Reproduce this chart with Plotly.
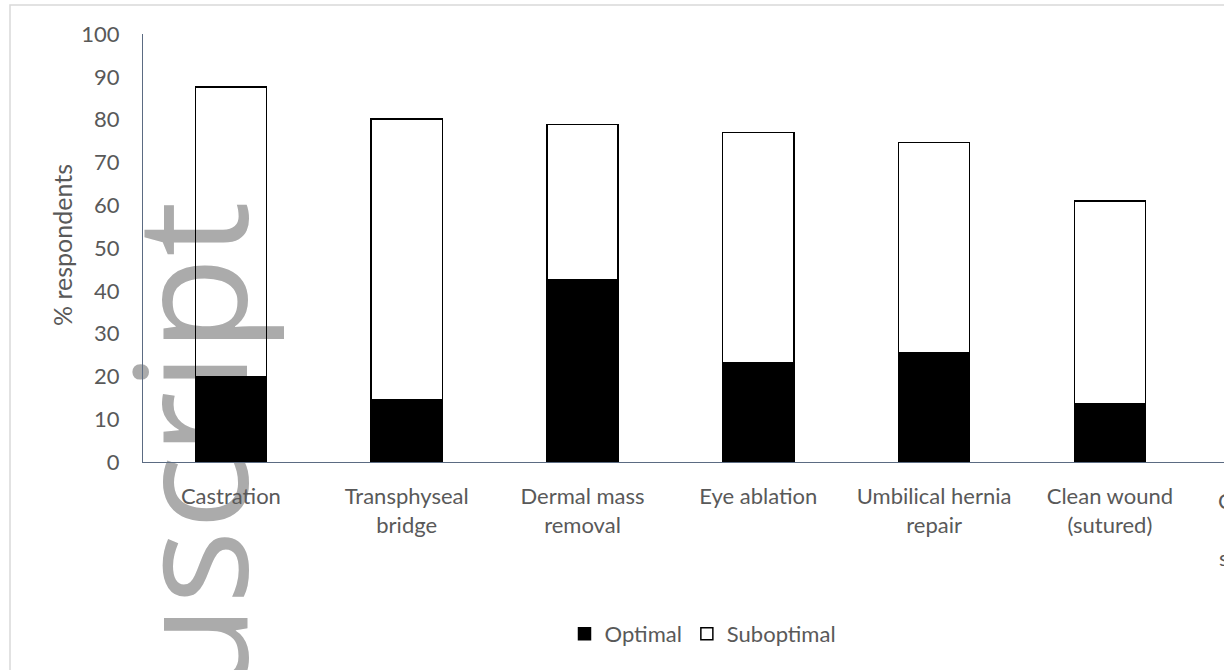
import plotly.graph_objects as go

# Surgical procedures and the share of respondents giving each answer
categories = [
    "Castration",
    "Transphyseal<br>bridge",
    "Dermal mass<br>removal",
    "Eye ablation",
    "Umbilical hernia<br>repair",
    "Clean wound<br>(sutured)",
]
optimal = [20.0, 14.5, 42.5, 23.3, 25.5, 13.6]
suboptimal = [67.6, 65.6, 36.3, 53.7, 49.2, 47.4]
y_ticks = list(range(0, 101, 10))
y_title = "% respondents"
next_category = "Contaminated<br>wound<br>surgical repair"

# pixel layout helpers
W, H = 1224, 670
L, R, T, B = 143, 0, 34, 208
PW, PH = W - L - R, H - T - B
CAT_PX = 175.8  # width of one category slot


def px(xp):
    return (xp - L) / PW


def py(yp):
    return (H - B - yp) / PH


AXIS = "#5b6b82"
TEXT = "#595959"
FONT = "Lato"

fig = go.Figure()
fig.add_trace(go.Bar(
    name="Optimal", x=categories, y=optimal,
    marker=dict(color="black", line=dict(color="black", width=1.5)),
))
fig.add_trace(go.Bar(
    name="Suboptimal", x=categories, y=suboptimal,
    marker=dict(color="rgba(255,255,255,0)", line=dict(color="black", width=1.5)),
))

fig.update_layout(
    width=W, height=H,
    margin=dict(l=L, r=R, t=T, b=B, autoexpand=False),
    barmode="stack", bargap=0.595,
    plot_bgcolor="rgba(0,0,0,0)", paper_bgcolor="white",
    font=dict(family=FONT, size=22, color=TEXT),
    showlegend=True,
    legend=dict(
        orientation="h", traceorder="normal",
        x=px(703), xanchor="center", y=py(634), yanchor="middle",
        font=dict(family=FONT, size=22, color=TEXT),
        itemwidth=30, bgcolor="rgba(0,0,0,0)",
    ),
    xaxis=dict(
        range=[-0.5, -0.5 + PW / CAT_PX],
        showline=True, linecolor=AXIS, linewidth=1,
        showgrid=False, zeroline=False, ticks="",
        ticklabelstandoff=15,
        tickfont=dict(family=FONT, size=22, color=TEXT),
    ),
    yaxis=dict(
        range=[0, 100], tickvals=y_ticks,
        showline=True, linecolor=AXIS, linewidth=1,
        showgrid=False, zeroline=False, ticks="",
        ticklabelstandoff=18,
        tickfont=dict(family=FONT, size=22, color=TEXT),
    ),
)

# y-axis title
fig.add_annotation(
    text=y_title, xref="paper", yref="paper",
    x=px(62), y=py(245), xanchor="center", yanchor="middle",
    textangle=-90, showarrow=False,
    font=dict(family=FONT, size=25, color=TEXT),
)

# chart frame
fig.add_shape(
    type="rect", xref="paper", yref="paper", layer="below",
    x0=px(10), x1=px(W + 50), y0=py(H + 50), y1=py(5),
    line=dict(color="#d9d9d9", width=1.5), fillcolor="rgba(0,0,0,0)",
)

# watermark behind the plot
fig.add_shape(
    type="rect", xref="paper", yref="paper", layer="below",
    x0=px(192), x1=px(202), y0=py(617), y1=py(607),
    line=dict(width=0), fillcolor="rgba(0,0,0,0)",
    label=dict(text="Manuscript", textangle=-90, textposition="middle center",
               font=dict(family="Open Sans", size=156, color="#ababab")),
)

# label of the next category running off the right edge
fig.add_annotation(
    text=next_category, xref="paper", yref="paper",
    x=px(L + 6.5 * CAT_PX), y=py(485), xanchor="center", yanchor="top",
    showarrow=False, align="center",
    font=dict(family=FONT, size=22, color=TEXT),
)

fig.write_html("out.html")
